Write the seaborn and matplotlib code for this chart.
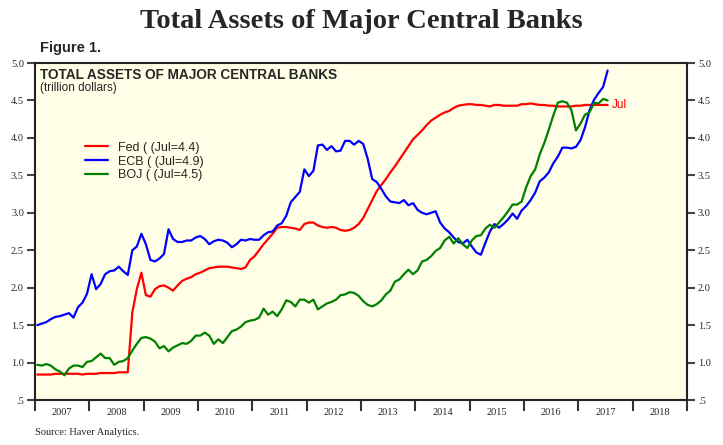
import numpy as np
import pandas as pd
import seaborn as sns
import matplotlib.pyplot as plt
from matplotlib.ticker import FixedLocator, NullFormatter

# monthly, Jan 2007 .. Jul 2017 (trillion dollars)
months = pd.date_range("2007-01-01", "2017-07-01", freq="MS")

fed = [0.84, 0.84, 0.84, 0.84, 0.85, 0.85, 0.85, 0.85, 0.85, 0.85, 0.84, 0.85,
       0.85, 0.85, 0.86, 0.86, 0.86, 0.86, 0.87, 0.87, 0.87, 1.67, 1.98, 2.20,
       1.90, 1.88, 1.98, 2.02, 2.03, 2.00, 1.96, 2.03, 2.09, 2.12, 2.14, 2.18,
       2.20, 2.23, 2.26, 2.27, 2.28, 2.28, 2.28, 2.27, 2.26, 2.25, 2.27, 2.37,
       2.42, 2.50, 2.58, 2.65, 2.72, 2.80, 2.81, 2.81, 2.80, 2.79, 2.77, 2.85,
       2.87, 2.87, 2.83, 2.81, 2.80, 2.81, 2.80, 2.77, 2.76, 2.77, 2.80, 2.85,
       2.93, 3.05, 3.17, 3.29, 3.37, 3.45, 3.54, 3.62, 3.71, 3.80, 3.89, 3.98,
       4.04, 4.10, 4.17, 4.23, 4.27, 4.31, 4.34, 4.36, 4.40, 4.43, 4.44, 4.45,
       4.45, 4.44, 4.44, 4.43, 4.42, 4.44, 4.44, 4.43, 4.43, 4.43, 4.43, 4.45,
       4.45, 4.46, 4.45, 4.44, 4.44, 4.43, 4.43, 4.42, 4.42, 4.42, 4.42, 4.43,
       4.43, 4.44, 4.44, 4.44, 4.44, 4.44, 4.44]

ecb = [1.50, 1.52, 1.54, 1.58, 1.61, 1.62, 1.64, 1.66, 1.60, 1.74, 1.80, 1.92,
       2.18, 1.98, 2.05, 2.18, 2.22, 2.23, 2.28, 2.22, 2.17, 2.50, 2.55, 2.72,
       2.58, 2.37, 2.35, 2.39, 2.45, 2.78, 2.65, 2.61, 2.61, 2.63, 2.63, 2.67,
       2.69, 2.65, 2.58, 2.62, 2.64, 2.63, 2.60, 2.54, 2.58, 2.64, 2.63, 2.65,
       2.64, 2.64, 2.70, 2.74, 2.75, 2.83, 2.86, 2.96, 3.14, 3.21, 3.28, 3.58,
       3.49, 3.56, 3.90, 3.91, 3.84, 3.89, 3.82, 3.83, 3.96, 3.96, 3.91, 3.96,
       3.92, 3.72, 3.45, 3.41, 3.32, 3.22, 3.15, 3.14, 3.13, 3.17, 3.10, 3.13,
       3.04, 3.00, 2.98, 3.00, 3.02, 2.87, 2.79, 2.74, 2.67, 2.61, 2.59, 2.64,
       2.55, 2.47, 2.44, 2.60, 2.75, 2.85, 2.80, 2.85, 2.91, 2.99, 2.92, 3.03,
       3.09, 3.17, 3.27, 3.42, 3.47, 3.54, 3.66, 3.75, 3.87, 3.87, 3.86, 3.88,
       3.97, 4.14, 4.37, 4.51, 4.60, 4.68, 4.90]

boj = [0.97, 0.96, 0.98, 0.96, 0.91, 0.88, 0.83, 0.92, 0.96, 0.96, 0.94, 1.01,
       1.02, 1.07, 1.12, 1.06, 1.06, 0.97, 1.01, 1.02, 1.06, 1.16, 1.25, 1.33,
       1.34, 1.32, 1.28, 1.19, 1.22, 1.15, 1.20, 1.23, 1.26, 1.25, 1.29, 1.36,
       1.36, 1.40, 1.36, 1.25, 1.31, 1.26, 1.34, 1.42, 1.44, 1.48, 1.54, 1.56,
       1.57, 1.60, 1.72, 1.64, 1.68, 1.62, 1.71, 1.83, 1.81, 1.75, 1.84, 1.84,
       1.80, 1.84, 1.71, 1.75, 1.79, 1.81, 1.84, 1.90, 1.91, 1.94, 1.93, 1.89,
       1.82, 1.77, 1.75, 1.78, 1.83, 1.91, 1.96, 2.08, 2.11, 2.18, 2.24, 2.18,
       2.23, 2.35, 2.37, 2.42, 2.49, 2.53, 2.63, 2.68, 2.59, 2.66, 2.58, 2.53,
       2.63, 2.69, 2.70, 2.79, 2.84, 2.80, 2.87, 2.94, 3.02, 3.11, 3.11, 3.15,
       3.34, 3.49, 3.58, 3.78, 3.93, 4.11, 4.30, 4.47, 4.49, 4.47, 4.37, 4.10,
       4.19, 4.31, 4.34, 4.47, 4.46, 4.52, 4.50]

banks = ["Fed ( (Jul=4.4)", "ECB ( (Jul=4.9)", "BOJ ( (Jul=4.5)"]
colors = ["#ff0000", "#0000ff", "#008000"]
years = list(range(2007, 2019))

t = months.year + (months.month - 0.5) / 12
df = pd.concat([
    pd.DataFrame({"t": t, "value": vals, "bank": name})
    for name, vals in zip(banks, [fed, ecb, boj])
])

sns.set_style("ticks")
plt.rcParams["font.family"] = ["Liberation Serif", "DejaVu Serif"]

fig = plt.figure(figsize=(7.23, 4.45), dpi=100)
ax = fig.add_axes([0.0484, 0.1011, 0.9016, 0.7573])
ax.set_facecolor("#fffee6")

sns.lineplot(data=df, x="t", y="value", hue="bank", palette=colors,
             linewidth=1.6, ax=ax)

ax.set_xlim(2007, 2019)
ax.set_ylim(0.5, 5.0)
ax.set_xlabel("")
ax.set_ylabel("")

# y ticks both sides
yt = np.arange(0.5, 5.01, 0.5)
ax.set_yticks(yt)
ax.set_yticklabels([".5" if v == 0.5 else f"{v:.1f}" for v in yt])
ax.tick_params(axis="y", which="both", direction="out", length=6, width=1.5,
               color="#444444", labelsize=7.5, right=True, labelright=True,
               pad=2)

# x: ticks at year boundaries, labels centered
ax.xaxis.set_major_locator(FixedLocator(list(range(2007, 2020))))
ax.xaxis.set_major_formatter(NullFormatter())
ax.xaxis.set_minor_locator(FixedLocator([y + 0.5 for y in years]))
ax.set_xticklabels([str(y) for y in years], minor=True)
ax.tick_params(axis="x", which="major", direction="out", length=8, width=1.5,
               color="#333333")
ax.tick_params(axis="x", which="minor", length=0, labelsize=7.5, pad=6)

for s in ax.spines.values():
    s.set_linewidth(1.5)
    s.set_color("#222222")

handles, labels = ax.get_legend_handles_labels()
ax.legend(handles, labels, loc="upper left", bbox_to_anchor=(0.06, 0.8),
          frameon=False, handlelength=1.8, handletextpad=0.8,
          labelspacing=0.15, prop={"family": "Liberation Sans", "size": 9})

ax.text(0.008, 0.985, "TOTAL ASSETS OF MAJOR CENTRAL BANKS", transform=ax.transAxes,
        ha="left", va="top", fontsize=9.8, fontweight="bold",
        family="Liberation Sans")
ax.text(0.008, 0.943, "(trillion dollars)", transform=ax.transAxes,
        ha="left", va="top", fontsize=8.5, family="Liberation Sans")
ax.text(t[-1] + 0.08, fed[-1], "Jul", color="#ff0000", fontsize=8.5,
        va="center", ha="left", family="Liberation Sans")

fig.text(0.5, 0.952, "Total Assets of Major Central Banks", ha="center",
         va="center", fontsize=20.5, fontweight="bold",
         family="Liberation Serif")
fig.text(0.055, 0.892, "Figure 1.", ha="left", va="center", fontsize=10.5,
         fontweight="bold", family="Liberation Sans")
fig.text(0.048, 0.027, "Source: Haver Analytics.", ha="left", va="center",
         fontsize=7.5, family="Liberation Serif")

fig.savefig("out.png", dpi=100)
